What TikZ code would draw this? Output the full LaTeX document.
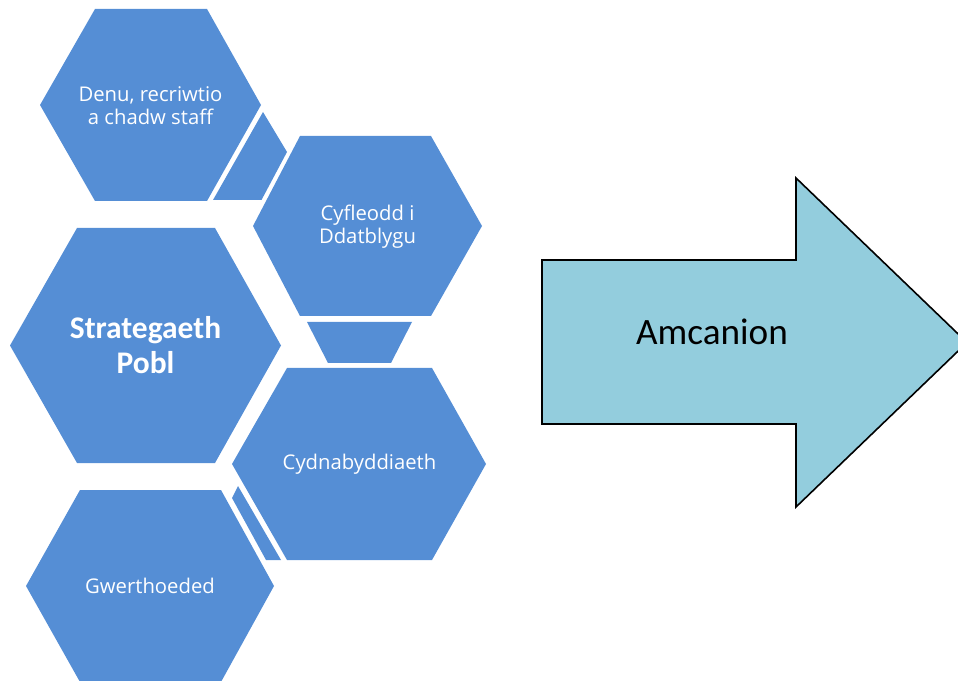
\documentclass[tikz,border=0pt]{standalone}
\usepackage{fontspec}
\setmainfont[Ligatures=NoCommon]{Carlito}
\newfontfamily\hexfont{Open Sans}
\definecolor{hexblue}{RGB}{85,142,213}
\definecolor{arrowfill}{RGB}{147,205,221}
\begin{document}
\begin{tikzpicture}[x=0.75pt,y=-0.75pt,
  hexshape/.style={fill=hexblue},
  linkshape/.style={fill=hexblue},
  hexlabel/.style={text=white,align=center,inner sep=0pt,font=\hexfont\fontsize{15.2}{17.4}\selectfont},
  mainlabel/.style={text=white,align=center,inner sep=0pt,font=\fontsize{23.6}{26}\selectfont\bfseries},
  arrowshape/.style={fill=arrowfill,draw=black,line width=1.2pt,line join=miter},
  arrowlabel/.style={text=black,inner sep=0pt,font=\fontsize{27.9}{31}\selectfont}]
\useasboundingbox (0,0) rectangle (958,681);
\clip (0,0) rectangle (958,681);
% hexagons
\fill[hexshape] (40,105) -- (95,9) -- (207,9) -- (261,105) -- (207,201) -- (95,201) -- cycle;
\fill[hexshape] (253,226) -- (300,136) -- (431,136) -- (482,226) -- (431,316) -- (300,316) -- cycle;
\fill[hexshape] (10,345.5) -- (77,228) -- (215,228) -- (281,345.5) -- (215,463) -- (77,463) -- cycle;
\fill[hexshape] (232,464) -- (287,368) -- (432,368) -- (486,464) -- (432,560) -- (287,560) -- cycle;
\fill[hexshape] (26,586) -- (80,490) -- (221,490) -- (274,586) -- (221,682) -- (80,682) -- cycle;
% linking pieces
\fill[linkshape] (263,112) -- (287,152) -- (261.5,200) -- (213,200) -- cycle;
\fill[linkshape] (307,322) -- (412,322) -- (391,363) -- (328,363) -- cycle;
\fill[linkshape] (238,486) -- (281,560) -- (266,560) -- (232,498) -- cycle;
% arrow
\draw[arrowshape] (542,260) -- (796,260) -- (796,178) -- (967,342.5) -- (796,507) -- (796,424) -- (542,424) -- cycle;
% labels
\node[hexlabel] (denu) at (150.5,106) {Denu, recriwtio\\a chadw staff};
\node[hexlabel] (cyfle) at (367.5,227) {Cyfleodd i\\Ddatblygu};
\node[mainlabel] (strat) at (145.5,345) {Strategaeth\\Pobl};
\node[hexlabel] (cydna) at (359.5,464) {Cydnabyddiaeth};
\node[hexlabel] (gwerth) at (150,586) {Gwerthoeded};
\node[arrowlabel] (amcan) at (712,332) {Amcanion};
\end{tikzpicture}
\end{document}
